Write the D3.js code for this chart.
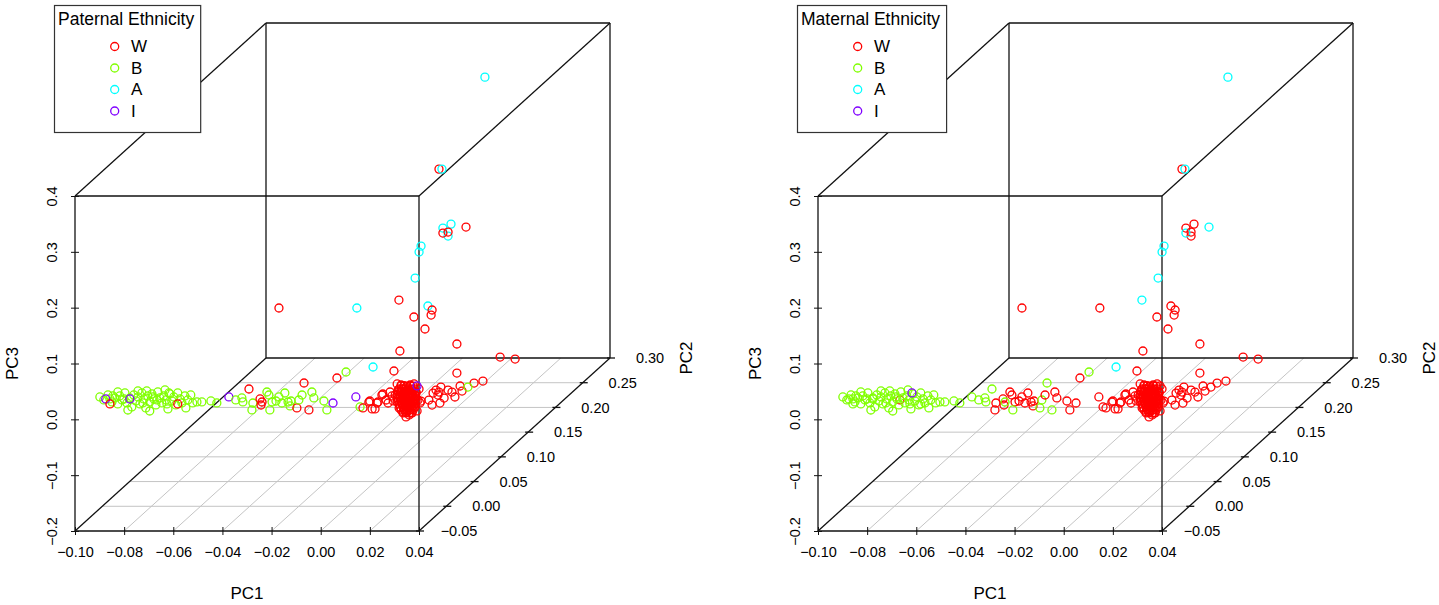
<!DOCTYPE html>
<html lang="en">
<head>
<meta charset="utf-8">
<title>PCA ethnicity 3D scatter</title>
<style>
  body { margin: 0; background: #fff; }
  svg text { font-family: Arial, "Liberation Sans", sans-serif; fill: #000; }
</style>
</head>
<body>
<script src="https://cdn.jsdelivr.net/npm/d3@7"></script>
<script>
var W = 1439, H = 605;

// legend categories, R rainbow(4) colours
var groups = ["W", "B", "A", "I"];
var groupColours = ["#FF0000", "#80FF00", "#00FFFF", "#8000FF"];
var panelTitles = ["Paternal Ethnicity", "Maternal Ethnicity"];

var pc1Ticks = [-0.10, -0.08, -0.06, -0.04, -0.02, 0.00, 0.02, 0.04];
var pc2Ticks = [-0.05, 0.00, 0.05, 0.10, 0.15, 0.20, 0.25, 0.30];
var pc3Ticks = [-0.2, -0.1, 0.0, 0.1, 0.2, 0.3, 0.4];

// rows: [PC1, PC2, PC3, paternal, maternal]
var africanCluster = [
  [-0.0689,-0.04,0.0259,"B","W"],
  [-0.0921,-0.04,0.0312,"B","B"], [-0.0905,-0.04,0.0259,"B","B"], [-0.0888,-0.04,0.0348,"B","B"],
  [-0.0872,-0.04,0.0223,"B","B"], [-0.0860,-0.04,0.0295,"B","B"], [-0.0848,-0.04,0.0187,"B","B"],
  [-0.0840,-0.04,0.0330,"B","B"], [-0.0831,-0.04,0.0259,"B","B"], [-0.0819,-0.04,0.0384,"B","B"],
  [-0.0811,-0.04,0.0205,"B","B"], [-0.0799,-0.04,0.0295,"B","B"], [-0.0791,-0.04,0.0133,"B","B"],
  [-0.0783,-0.04,0.0348,"B","B"], [-0.0774,-0.04,0.0241,"B","B"], [-0.0766,-0.04,0.0312,"B","B"],
  [-0.0758,-0.04,0.0187,"B","B"], [-0.0750,-0.04,0.0384,"B","B"], [-0.0742,-0.04,0.0277,"B","B"],
  [-0.0734,-0.04,0.0115,"B","B"], [-0.0726,-0.04,0.0330,"B","B"], [-0.0718,-0.04,0.0223,"B","B"],
  [-0.0709,-0.04,0.0366,"B","B"], [-0.0701,-0.04,0.0277,"B","B"], [-0.0693,-0.04,0.0169,"B","B"],
  [-0.0685,-0.04,0.0402,"B","B"], [-0.0677,-0.04,0.0295,"B","B"], [-0.0669,-0.04,0.0205,"B","B"],
  [-0.0661,-0.04,0.0330,"B","B"], [-0.0652,-0.04,0.0259,"B","B"], [-0.0644,-0.04,0.0097,"B","B"],
  [-0.0636,-0.04,0.0366,"B","B"], [-0.0628,-0.04,0.0241,"B","B"], [-0.0620,-0.04,0.0312,"B","B"],
  [-0.0612,-0.04,0.0169,"B","B"], [-0.0604,-0.04,0.0384,"B","B"], [-0.0595,-0.04,0.0277,"B","B"],
  [-0.0587,-0.04,0.0205,"B","B"], [-0.0575,-0.04,0.0330,"B","B"], [-0.0563,-0.04,0.0259,"B","B"],
  [-0.0551,-0.04,0.0348,"B","B"], [-0.0543,-0.04,0.0205,"B","B"], [-0.0807,-0.04,0.0079,"B","B"],
  [-0.0718,-0.04,0.0061,"B","B"], [-0.0848,-0.04,0.0402,"B","B"], [-0.0656,-0.04,0.0438,"B","B"],
  [-0.0766,-0.04,0.0420,"B","B"], [-0.0868,-0.04,0.0330,"B","B"], [-0.0823,-0.04,0.0277,"B","B"],
  [-0.0746,-0.04,0.0205,"B","B"], [-0.0705,-0.04,0.0312,"B","B"], [-0.0648,-0.04,0.0187,"B","B"],
  [-0.0571,-0.04,0.0115,"B","B"], [-0.0880,-0.04,0.0277,"B","B"], [-0.0730,-0.04,0.0420,"B","B"],
  [-0.0526,-0.04,0.0223,"B","B"], [-0.0506,-0.04,0.0223,"B","B"], [-0.0469,-0.04,0.0241,"B","B"],
  [-0.0445,-0.04,0.0205,"B","B"], [-0.0396,-0.04,0.0312,"I","B"], [-0.0368,-0.04,0.0259,"B","B"],
  [-0.0343,-0.04,0.0295,"B","B"], [-0.0339,-0.04,0.0223,"B","B"],
  [-0.0897,-0.04,0.0277,"I","B"], [-0.0880,-0.04,0.0187,"W","B"], [-0.0799,-0.04,0.0277,"I","B"],
  [-0.0604,-0.04,0.0187,"W","B"], [-0.0640,-0.04,0.0384,"B","I"]
];

var admixedBand = [
  [-0.0403,0,0.0101,"W","B"], [-0.0387,0,-0.0150,"B","W"], [-0.0391,0,-0.0275,"B","W"],
  [-0.0358,0,-0.0078,"W","W"], [-0.0354,0,-0.0186,"W","W"], [-0.0350,0,-0.0132,"W","B"],
  [-0.0330,0,0.0047,"B","W"], [-0.0322,0,-0.0007,"B","W"], [-0.0309,0,-0.0132,"B","W"],
  [-0.0293,0,-0.0114,"B","W"], [-0.0281,0,-0.0042,"B","W"], [-0.0269,0,-0.0150,"B","W"],
  [-0.0257,0,0.0029,"B","W"], [-0.0244,0,-0.0132,"B","W"], [-0.0236,0,-0.0203,"B","W"],
  [-0.0232,0,-0.0114,"B","W"], [-0.0318,0,-0.0275,"B","B"], [-0.0208,0,-0.0239,"W","B"],
  [-0.0200,0,-0.0096,"B","B"], [-0.0179,0,0.0208,"W","B"], [-0.0159,0,-0.0275,"W","B"],
  [-0.0187,0,-0.0007,"B","W"], [-0.0147,0,0.0047,"B","W"], [-0.0139,0,-0.0060,"B","W"],
  [-0.0098,0,-0.0114,"B","W"], [-0.0086,0,-0.0275,"B","W"], [-0.0061,0,-0.0150,"I","W"],
  [-0.0045,0,0.0298,"W","W"], [-0.0008,0,0.0405,"B","B"], [0.0032,0,-0.0042,"I","W"],
  [0.0049,0,-0.0221,"B","W"], [0.0061,0,-0.0239,"W","W"], [0.0085,0,-0.0132,"W","W"],
  [0.0098,0,-0.0257,"W","W"], [0.0102,0,0.0495,"A","A"], [0.0118,0,-0.0150,"W","W"],
  [0.0138,0,-0.0007,"W","W"], [0.0155,0,-0.0096,"W","W"], [0.0171,0,0.0047,"W","W"],
  [0.0187,0,0.0423,"W","W"], [0.0110,0,-0.0257,"W","W"], [0.0122,0,-0.0132,"W","W"],
  [0.0089,0,-0.0114,"W","W"], [0.0142,0,0.0011,"W","W"], [0.0163,0,-0.0150,"W","W"],
  [0.0179,0,-0.0024,"W","W"]
];

// the tight European cluster next to the front right edge
var europeanCluster = [
  [0.0105,0.05,-0.0287,"W","W"], [0.0117,0.05,-0.0284,"W","W"], [0.0129,0.05,-0.0290,"W","W"],
  [0.0142,0.05,-0.0286,"W","W"], [0.0154,0.05,-0.0289,"W","W"],
  [0.0097,0.05,-0.0341,"W","W"], [0.0109,0.05,-0.0338,"W","W"], [0.0121,0.05,-0.0343,"W","W"],
  [0.0134,0.05,-0.0340,"W","W"], [0.0146,0.05,-0.0344,"W","W"], [0.0158,0.05,-0.0339,"W","W"],
  [0.0093,0.05,-0.0395,"W","W"], [0.0105,0.05,-0.0392,"W","W"], [0.0117,0.05,-0.0397,"W","W"],
  [0.0129,0.05,-0.0394,"W","W"], [0.0142,0.05,-0.0398,"W","W"], [0.0154,0.05,-0.0393,"W","W"],
  [0.0166,0.05,-0.0396,"W","W"],
  [0.0089,0.05,-0.0449,"W","W"], [0.0101,0.05,-0.0446,"W","W"], [0.0113,0.05,-0.0451,"W","W"],
  [0.0125,0.05,-0.0447,"W","W"], [0.0138,0.05,-0.0452,"W","W"], [0.0150,0.05,-0.0448,"W","W"],
  [0.0162,0.05,-0.0450,"W","W"],
  [0.0089,0.05,-0.0502,"W","W"], [0.0101,0.05,-0.0505,"W","W"], [0.0113,0.05,-0.0500,"W","W"],
  [0.0125,0.05,-0.0504,"W","W"], [0.0138,0.05,-0.0501,"W","W"], [0.0150,0.05,-0.0506,"W","W"],
  [0.0162,0.05,-0.0503,"W","W"],
  [0.0093,0.05,-0.0556,"W","W"], [0.0105,0.05,-0.0553,"W","W"], [0.0117,0.05,-0.0558,"W","W"],
  [0.0129,0.05,-0.0555,"W","W"], [0.0142,0.05,-0.0559,"W","W"], [0.0154,0.05,-0.0554,"W","W"],
  [0.0166,0.05,-0.0557,"W","W"],
  [0.0097,0.05,-0.0610,"W","W"], [0.0109,0.05,-0.0607,"W","W"], [0.0121,0.05,-0.0612,"W","W"],
  [0.0134,0.05,-0.0608,"W","W"], [0.0146,0.05,-0.0613,"W","W"], [0.0158,0.05,-0.0609,"W","W"],
  [0.0101,0.05,-0.0663,"W","W"], [0.0113,0.05,-0.0666,"W","W"], [0.0125,0.05,-0.0661,"W","W"],
  [0.0138,0.05,-0.0665,"W","W"], [0.0150,0.05,-0.0662,"W","W"], [0.0162,0.05,-0.0667,"W","W"],
  [0.0105,0.05,-0.0717,"W","W"], [0.0117,0.05,-0.0714,"W","W"], [0.0129,0.05,-0.0719,"W","W"],
  [0.0142,0.05,-0.0715,"W","W"], [0.0154,0.05,-0.0718,"W","W"],
  [0.0113,0.05,-0.0771,"W","W"], [0.0125,0.05,-0.0768,"W","W"], [0.0138,0.05,-0.0773,"W","W"],
  [0.0150,0.05,-0.0769,"W","W"],
  [0.0081,0.05,-0.0449,"W","W"], [0.0089,0.05,-0.0574,"W","W"], [0.0093,0.05,-0.0359,"W","W"],
  [0.0097,0.05,-0.0681,"W","W"], [0.0101,0.05,-0.0484,"W","W"], [0.0105,0.05,-0.0270,"W","W"],
  [0.0109,0.05,-0.0592,"W","W"], [0.0113,0.05,-0.0753,"W","W"], [0.0117,0.05,-0.0395,"W","W"],
  [0.0121,0.05,-0.0520,"W","W"], [0.0125,0.05,-0.0305,"W","W"], [0.0129,0.05,-0.0645,"W","W"],
  [0.0134,0.05,-0.0449,"W","W"], [0.0138,0.05,-0.0807,"W","W"], [0.0142,0.05,-0.0556,"W","W"],
  [0.0146,0.05,-0.0359,"W","W"], [0.0150,0.05,-0.0699,"W","W"], [0.0154,0.05,-0.0484,"W","W"],
  [0.0158,0.05,-0.0252,"W","W"], [0.0162,0.05,-0.0610,"W","W"], [0.0166,0.05,-0.0413,"W","W"],
  [0.0170,0.05,-0.0735,"W","W"], [0.0174,0.05,-0.0538,"W","W"], [0.0178,0.05,-0.0341,"W","W"],
  [0.0125,0.05,-0.0842,"W","W"], [0.0142,0.05,-0.0270,"W","W"], [0.0113,0.05,-0.0466,"W","W"],
  [0.0138,0.05,-0.0610,"W","W"], [0.0154,0.05,-0.0574,"W","W"], [0.0101,0.05,-0.0395,"W","W"],
  [0.0121,0.05,-0.0717,"W","W"], [0.0146,0.05,-0.0771,"W","W"], [0.0166,0.05,-0.0502,"W","W"],
  [0.0109,0.05,-0.0520,"W","W"], [0.0134,0.05,-0.0377,"W","W"], [0.0158,0.05,-0.0663,"W","W"],
  [0.0117,0.05,-0.0628,"W","W"], [0.0093,0.05,-0.0502,"W","W"], [0.0150,0.05,-0.0431,"W","W"],
  [0.0129,0.05,-0.0753,"W","W"], [0.0089,0.05,-0.0252,"W","W"], [0.0073,0.05,-0.0556,"W","W"],
  [0.0182,0.05,-0.0592,"W","W"], [0.0170,0.05,-0.0287,"I","W"]
];

var europeanTail = [
  [-0.0036,0.15,-0.1443,"W","W"], [-0.0004,0.15,-0.1425,"W","W"], [0.0009,0.15,-0.1515,"W","W"],
  [0.0013,0.15,-0.1300,"W","W"], [0.0025,0.15,-0.1246,"W","W"], [0.0033,0.15,-0.1336,"W","W"],
  [0.0037,0.15,-0.1282,"W","W"], [0.0041,0.15,-0.1479,"W","W"], [0.0045,0.15,-0.1192,"W","W"],
  [0.0058,0.15,-0.1389,"W","W"], [0.0074,0.15,-0.1246,"W","W"], [0.0090,0.15,-0.1282,"W","W"],
  [0.0102,0.15,-0.1371,"W","W"], [0.0123,0.15,-0.1174,"W","W"], [0.0131,0.15,-0.1264,"W","W"],
  [0.0180,0.15,-0.1121,"W","W"], [0.0216,0.15,-0.1085,"W","W"], [0.0110,0.15,-0.0942,"W","W"],
  [0.0286,0.15,-0.0655,"W","W"], [0.0347,0.15,-0.0691,"W","W"], [0.0155,0.15,-0.1192,"B","W"]
];

var upperPoints = [
  [0.0002,0.25,0.3473,"A","A"], [-0.0185,0.25,0.1826,"W","W"], [-0.0173,0.25,0.1826,"A","A"],
  [-0.0169,0.25,0.0770,"A","W"], [-0.0136,0.25,0.0841,"A","W"], [-0.0148,0.25,0.0627,"A","W"],
  [-0.0169,0.25,0.0680,"W","A"], [-0.0148,0.25,0.0698,"W","W"], [-0.0075,0.25,0.0788,"W","A"],
  [-0.0258,0.25,0.0448,"A","A"], [-0.0266,0.25,0.0340,"A","A"], [-0.0282,0.25,-0.0125,"A","A"],
  [-0.0348,0.25,-0.0519,"W","A"], [-0.0230,0.25,-0.0626,"A","W"], [-0.0213,0.25,-0.0698,"W","W"],
  [-0.0217,0.25,-0.0788,"W","W"], [-0.0287,0.25,-0.0823,"W","W"], [-0.0242,0.25,-0.1038,"W","W"],
  [-0.0112,0.25,-0.1307,"W","W"], [-0.0344,0.25,-0.1432,"W","W"],
  [-0.0281,0.00,0.1551,"W","W"], [0.0036,0.00,0.1551,"A","W"]
];

var samples = africanCluster.concat(admixedBand, europeanCluster, europeanTail, upperPoints);

var svg = d3.select("body").append("svg").attr("width", W).attr("height", H);
svg.append("rect").attr("width", W).attr("height", H).attr("fill", "#fff");

// front face: PC1 across, PC3 up; PC2 recedes along (DX, DY)
var x = d3.scaleLinear().domain([-0.10, 0.04]).range([0, 344]);
var z = d3.scaleLinear().domain([-0.2, 0.4]).range([0, -335]);
var depth = d3.scaleLinear().domain([-0.05, 0.30]).range([0, 1]);
var colour = d3.scaleOrdinal().domain(groups).range(groupColours);
var DX = 191, DY = -173;
function px(a, b) { return x(a) + depth(b) * DX; }
function py(b, c) { return z(c) + depth(b) * DY; }

var f2 = d3.format(".2f"), f1 = d3.format(".1f");
var boxCol = "#111";

panelTitles.forEach(function(title, p) {
  var g = svg.append("g").attr("transform", "translate(" + (75 + p * 743) + ",531)");

  // floor grid
  g.selectAll(".gx").data(pc1Ticks.slice(1, -1)).enter().append("line")
    .attr("x1", function(d) { return px(d, -0.05); }).attr("y1", py(-0.05, -0.2))
    .attr("x2", function(d) { return px(d, 0.30); }).attr("y2", py(0.30, -0.2))
    .attr("stroke", "#c4c4c4").attr("stroke-width", 1);
  g.selectAll(".gy").data(pc2Ticks.slice(1, -1)).enter().append("line")
    .attr("x1", function(d) { return px(-0.10, d); }).attr("y1", function(d) { return py(d, -0.2); })
    .attr("x2", function(d) { return px(0.04, d); }).attr("y2", function(d) { return py(d, -0.2); })
    .attr("stroke", "#c4c4c4").attr("stroke-width", 1);

  // box
  var edges = [
    [[-0.10,-0.05,-0.2],[0.04,-0.05,-0.2]], [[-0.10,-0.05,0.4],[0.04,-0.05,0.4]],
    [[-0.10,-0.05,-0.2],[-0.10,-0.05,0.4]], [[0.04,-0.05,-0.2],[0.04,-0.05,0.4]],
    [[-0.10,0.30,-0.2],[0.04,0.30,-0.2]], [[-0.10,0.30,0.4],[0.04,0.30,0.4]],
    [[-0.10,0.30,-0.2],[-0.10,0.30,0.4]], [[0.04,0.30,-0.2],[0.04,0.30,0.4]],
    [[-0.10,-0.05,-0.2],[-0.10,0.30,-0.2]], [[0.04,-0.05,-0.2],[0.04,0.30,-0.2]],
    [[-0.10,-0.05,0.4],[-0.10,0.30,0.4]], [[0.04,-0.05,0.4],[0.04,0.30,0.4]]
  ];
  g.selectAll(".edge").data(edges).enter().append("line")
    .attr("x1", function(d) { return px(d[0][0], d[0][1]); })
    .attr("y1", function(d) { return py(d[0][1], d[0][2]); })
    .attr("x2", function(d) { return px(d[1][0], d[1][1]); })
    .attr("y2", function(d) { return py(d[1][1], d[1][2]); })
    .attr("stroke", boxCol).attr("stroke-width", 1.3);

  // PC1 axis
  var ax = g.append("g").attr("transform", "translate(0,-4)")
    .call(d3.axisBottom(x).tickValues(pc1Ticks).tickSize(8).tickPadding(12).tickFormat(f2));
  ax.select(".domain").remove();
  ax.attr("font-family", null).attr("font-size", null).attr("color", boxCol);
  ax.selectAll("text").style("font-size", "14.5px");

  // PC3 axis
  var az = g.append("g").attr("transform", "translate(4,0)")
    .call(d3.axisLeft(z).tickValues(pc3Ticks).tickSize(8).tickFormat(f1));
  az.select(".domain").remove();
  az.attr("font-family", null).attr("font-size", null).attr("color", boxCol);
  az.selectAll("text").style("font-size", "14.5px")
    .attr("transform", "rotate(-90)").attr("x", 0).attr("y", -27)
    .attr("dy", "0.35em").attr("text-anchor", "middle");

  // PC2 axis along the receding right edge
  var ty = g.selectAll(".ty").data(pc2Ticks).enter().append("g")
    .attr("transform", function(d) { return "translate(" + px(0.04, d) + "," + py(d, -0.2) + ")"; });
  ty.append("line").attr("x1", -3).attr("x2", 5).attr("stroke", boxCol).attr("stroke-width", 1.3);
  ty.append("text").attr("x", 40).attr("dy", "0.35em").attr("text-anchor", "middle")
    .style("font-size", "14.5px").text(function(d) { return f2(d); });

  // axis titles
  g.append("text").attr("x", (x(-0.10) + x(0.04)) / 2).attr("y", 62).attr("dy", "0.35em")
    .attr("text-anchor", "middle").style("font-size", "17px").text("PC1");
  g.append("text").attr("transform", "translate(-63," + z(0.1) + ") rotate(-90)")
    .attr("dy", "0.35em").attr("text-anchor", "middle").style("font-size", "17px").text("PC3");
  g.append("text").attr("transform", "translate(" + (px(0.04, 0.30) + 76) + "," + py(0.30, -0.2) + ") rotate(-90)")
    .attr("dy", "0.35em").attr("text-anchor", "middle").style("font-size", "17px").text("PC2");

  // points
  g.selectAll(".pt").data(samples).enter().append("circle")
    .attr("cx", function(d) { return px(d[0], d[1]); })
    .attr("cy", function(d) { return py(d[1], d[2]); })
    .attr("r", 4).attr("fill", "none").attr("stroke-width", 1.3)
    .attr("stroke", function(d) { return colour(d[3 + p]); });

  // legend
  var lg = g.append("g").attr("transform", "translate(-21,-526)");
  var box = lg.append("rect").attr("x", 0.5).attr("y", 0.5).attr("height", 127)
    .attr("fill", "#fff").attr("stroke", "#333").attr("stroke-width", 1.2);
  var tt = lg.append("text").attr("x", 4).attr("y", 20).style("font-size", "17.5px").text(title);
  box.attr("width", tt.node().getComputedTextLength() + 10);
  var item = lg.selectAll(".it").data(groups).enter().append("g")
    .attr("transform", function(d, i) { return "translate(0," + (41.5 + i * 21.5) + ")"; });
  item.append("circle").attr("cx", 60.7).attr("r", 4).attr("fill", "none")
    .attr("stroke-width", 1.3).attr("stroke", function(d) { return colour(d); });
  item.append("text").attr("x", 77).attr("dy", "0.35em").style("font-size", "17px")
    .text(function(d) { return d; });
});
</script>
</body>
</html>
